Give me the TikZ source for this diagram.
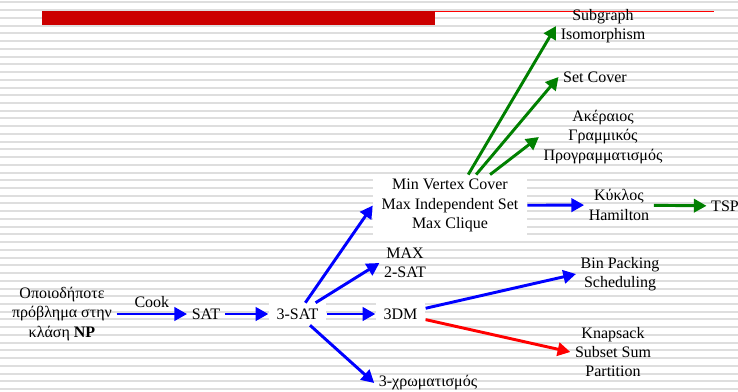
\documentclass[tikz,border=0pt]{standalone}
\usepackage{fontspec}
\setmainfont{Liberation Serif}
\usetikzlibrary{arrows.meta}
\definecolor{slidered}{RGB}{204,0,0}
\definecolor{linkblue}{RGB}{0,0,255}
\definecolor{linkgreen}{RGB}{0,128,0}
\definecolor{linkred}{RGB}{255,0,0}
\definecolor{stripe}{RGB}{222,222,222}

\begin{document}
\begin{tikzpicture}[x=0.75pt, y=-0.75pt,
    every node/.style={font=\fontsize{12}{14.4}\selectfont, align=center, text=black},
    box/.style={fill=white, inner xsep=6pt, minimum height=16.5pt},
    link/.style={line width=2.2pt, -{Triangle[length=9.5pt,width=10pt]}}]
    \useasboundingbox (0,0) rectangle (738,392);
    % lined background and title bar
    \foreach \k in {0,...,50}
      \draw[stripe, line width=1.5pt] (0,{2.5+7.73*\k}) -- (738,{2.5+7.73*\k});
    \fill[slidered] (42,11) rectangle (435,25);
    \draw[linkred, line width=1pt] (435,11.5) -- (714,11.5);

    \node (NP) at (62,314) {Οποιοδήποτε\\πρόβλημα στην\\κλάση \textbf{NP}};
    \node (SAT) at (206,314) {SAT};
    \node[box] (3SAT) at (297.5,314) {3-SAT};
    \node[box] (3DM) at (400.5,314) {3DM};
    \node[box, minimum width=115.5pt, minimum height=44.5pt] (MVC) at (450,205.5)
      {Min Vertex Cover\\Max Independent Set\\Max Clique};
    \node (MAX2) at (405,263) {MAX\\2-SAT};
    \node (COL) at (428,383) {3-χρωματισμός};
    \node (BIN) at (620,274) {Bin Packing\\Scheduling};
    \node (KNAP) at (613,352) {Knapsack\\Subset Sum\\Partition};
    \node (HAM) at (619,205) {Κύκλος\\Hamilton};
    \node (TSP) at (725,206) {TSP};
    \node (SUB) at (603,26) {Subgraph\\Isomorphism};
    \node (SC) at (595,77) {Set Cover};
    \node (ILP) at (603,137) {Ακέραιος\\Γραμμικός\\Προγραμματισμός};

    \draw[link, linkblue] (NP) -- (SAT) node [midway, above] {Cook};
    \draw[link, linkblue] (SAT) -- (3SAT);
    \draw[link, linkblue] (3SAT) -- (3DM);
    \draw[link, linkblue] (3SAT) -- (MVC.west);
    \draw[link, linkblue] (3SAT) -- (MAX2.west);
    \draw[link, linkblue] (3SAT) -- (COL.west);
    \draw[link, linkblue] (3DM) -- (BIN.west);
    \draw[link, linkred] (3DM) -- (KNAP.west);
    \draw[link, linkblue] (MVC) -- (HAM);
    \draw[link, linkgreen] (HAM) -- (TSP);
    \draw[link, linkgreen] (MVC) -- (SUB.west);
    \draw[link, linkgreen] (MVC) -- (SC.west);
    \draw[link, linkgreen] (MVC) -- (ILP.west);
\end{tikzpicture}
\end{document}
